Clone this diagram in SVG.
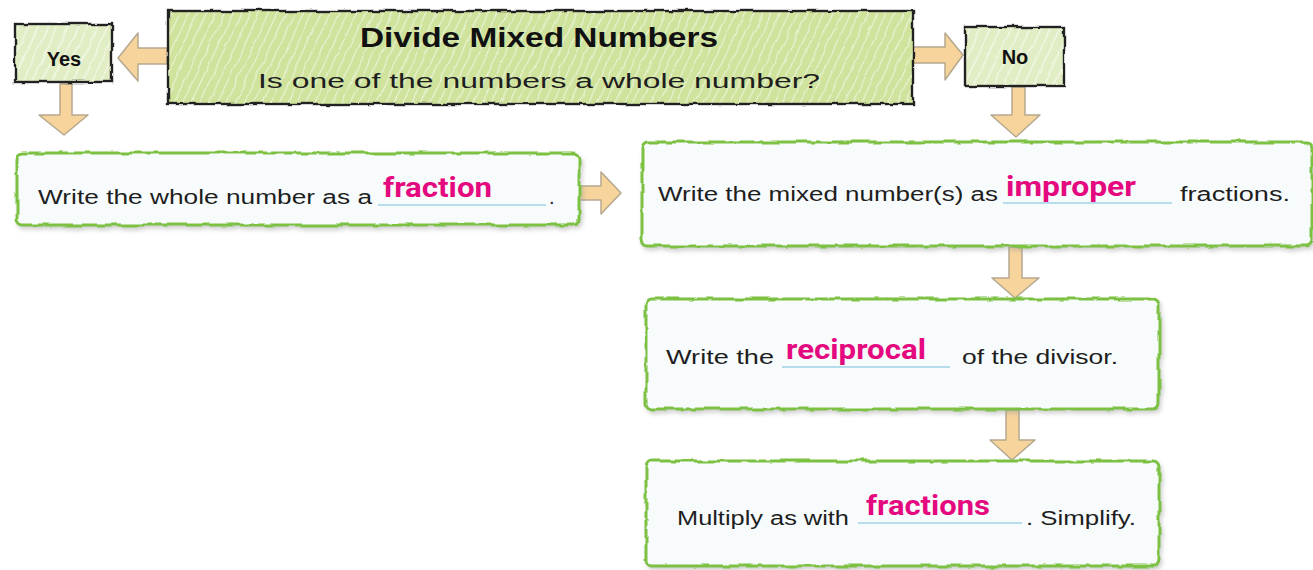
<svg xmlns="http://www.w3.org/2000/svg" width="1313" height="570" viewBox="0 0 1313 570">
<defs>
<style>
.hand{font-family:"Liberation Sans","DejaVu Sans",sans-serif;fill:#1e1e1e;font-size:20px}
.title{font-family:"Liberation Sans","DejaVu Sans",sans-serif;fill:#111;font-weight:bold}
.ans{font-family:Roboto,"Liberation Sans",sans-serif;fill:#e5097f;font-weight:bold;font-size:27px}
.ul{stroke:#9fd3e6;stroke-width:1.5}
.gbox{fill:#f7fbfc;stroke:#7cc142;stroke-width:3}
.kbox{stroke:#222;stroke-width:2.4}
.arr{fill:#f7d49c;stroke:#b5a88f;stroke-width:1.5;stroke-linejoin:round}
</style>
<filter id="rough" x="-5%" y="-10%" width="110%" height="120%">
<feTurbulence type="fractalNoise" baseFrequency="0.06" numOctaves="2" seed="4" result="n"/>
<feDisplacementMap in="SourceGraphic" in2="n" scale="5" xChannelSelector="R" yChannelSelector="G"/>
</filter>
<filter id="shadow" x="-5%" y="-10%" width="110%" height="130%">
<feDropShadow dx="2" dy="3" stdDeviation="2" flood-color="#999" flood-opacity="0.45"/>
</filter>
<pattern id="hatchT" width="8" height="8" patternUnits="userSpaceOnUse" patternTransform="rotate(25)">
<rect width="8" height="8" fill="#cfe39c"/>
<line x1="0" y1="0" x2="0" y2="8" stroke="#e9f2d3" stroke-width="2.5"/>
</pattern>
<pattern id="hatchS" width="9" height="9" patternUnits="userSpaceOnUse" patternTransform="rotate(25)">
<rect width="9" height="9" fill="#e1edc4"/>
<line x1="0" y1="0" x2="0" y2="9" stroke="#f2f7e5" stroke-width="3"/>
</pattern>
</defs>
<rect width="1313" height="570" fill="#ffffff"/>

<g id="connectors">
<path class="arr" d="M167,48 L138,48 L138,33 L118,58 L138,81 L138,64 L167,64 Z"/>
<path class="arr" d="M913,47 L945,47 L945,33 L963,55 L945,80 L945,63 L913,63 Z"/>
<path class="arr" d="M60,84 L72,84 L72,115 L88,115 L64,135 L39,115 L60,115 Z"/>
<path class="arr" d="M1012,87 L1025,87 L1025,115 L1040,115 L1016,137 L991,115 L1012,115 Z"/>
<path class="arr" d="M578,186 L601,186 L601,172 L621,193 L601,214 L601,200 L578,200 Z"/>
<path class="arr" d="M1009,247 L1022,247 L1022,278 L1039,278 L1015,298 L992,278 L1009,278 Z"/>
<path class="arr" d="M1006,410 L1019,410 L1019,440 L1035,440 L1012,460 L990,440 L1006,440 Z"/>
</g>

<g id="title">
<rect x="168" y="11" width="745" height="93" fill="url(#hatchT)" class="kbox" filter="url(#rough)"/>
<text class="title" x="360" y="47" font-size="28" textLength="358" lengthAdjust="spacingAndGlyphs">Divide Mixed Numbers</text>
<text class="hand" x="258" y="88" font-size="26" textLength="562" lengthAdjust="spacingAndGlyphs">Is one of the numbers a whole number?</text>
</g>

<g id="yes">
<rect x="15" y="24" width="97" height="58" fill="url(#hatchS)" class="kbox" filter="url(#rough)"/>
<text class="title" x="64" y="66" font-size="20" font-weight="900" text-anchor="middle">Yes</text>
</g>

<g id="no">
<rect x="965" y="27" width="99" height="59" fill="url(#hatchS)" class="kbox" filter="url(#rough)"/>
<text class="title" x="1015" y="64" font-size="20" font-weight="900" text-anchor="middle">No</text>
</g>

<g id="step-whole">
<g filter="url(#shadow)"><rect x="17" y="153" width="562" height="72" rx="6" class="gbox" filter="url(#rough)"/></g>
<text class="hand" x="38" y="204" textLength="334" lengthAdjust="spacingAndGlyphs">Write the whole number as a</text>
<line class="ul" x1="378" y1="205" x2="546" y2="205"/>
<text class="ans" x="383" y="197" textLength="109" lengthAdjust="spacingAndGlyphs">fraction</text>
<text class="hand" x="549" y="204">.</text>
</g>

<g id="step-improper">
<g filter="url(#shadow)"><rect x="642" y="142" width="670" height="104" rx="6" class="gbox" filter="url(#rough)"/></g>
<text class="hand" x="658" y="201" textLength="340" lengthAdjust="spacingAndGlyphs">Write the mixed number(s) as</text>
<line class="ul" x1="1003" y1="203" x2="1172" y2="203"/>
<text class="ans" x="1006" y="196" textLength="130" lengthAdjust="spacingAndGlyphs">improper</text>
<text class="hand" x="1180" y="201" textLength="110" lengthAdjust="spacingAndGlyphs">fractions.</text>
</g>

<g id="step-reciprocal">
<g filter="url(#shadow)"><rect x="646" y="299" width="513" height="110" rx="6" class="gbox" filter="url(#rough)"/></g>
<text class="hand" x="666" y="364" textLength="108" lengthAdjust="spacingAndGlyphs">Write the</text>
<line class="ul" x1="782" y1="367" x2="950" y2="367"/>
<text class="ans" x="786" y="359" textLength="140" lengthAdjust="spacingAndGlyphs">reciprocal</text>
<text class="hand" x="962" y="364" textLength="156" lengthAdjust="spacingAndGlyphs">of the divisor.</text>
</g>

<g id="step-multiply">
<g filter="url(#shadow)"><rect x="646" y="461" width="513" height="105" rx="6" class="gbox" filter="url(#rough)"/></g>
<text class="hand" x="677" y="525" textLength="172" lengthAdjust="spacingAndGlyphs">Multiply as with</text>
<line class="ul" x1="858" y1="523" x2="1022" y2="523"/>
<text class="ans" x="866" y="515" textLength="124" lengthAdjust="spacingAndGlyphs">fractions</text>
<text class="hand" x="1026" y="525" textLength="110" lengthAdjust="spacingAndGlyphs">. Simplify.</text>
</g>
</svg>
